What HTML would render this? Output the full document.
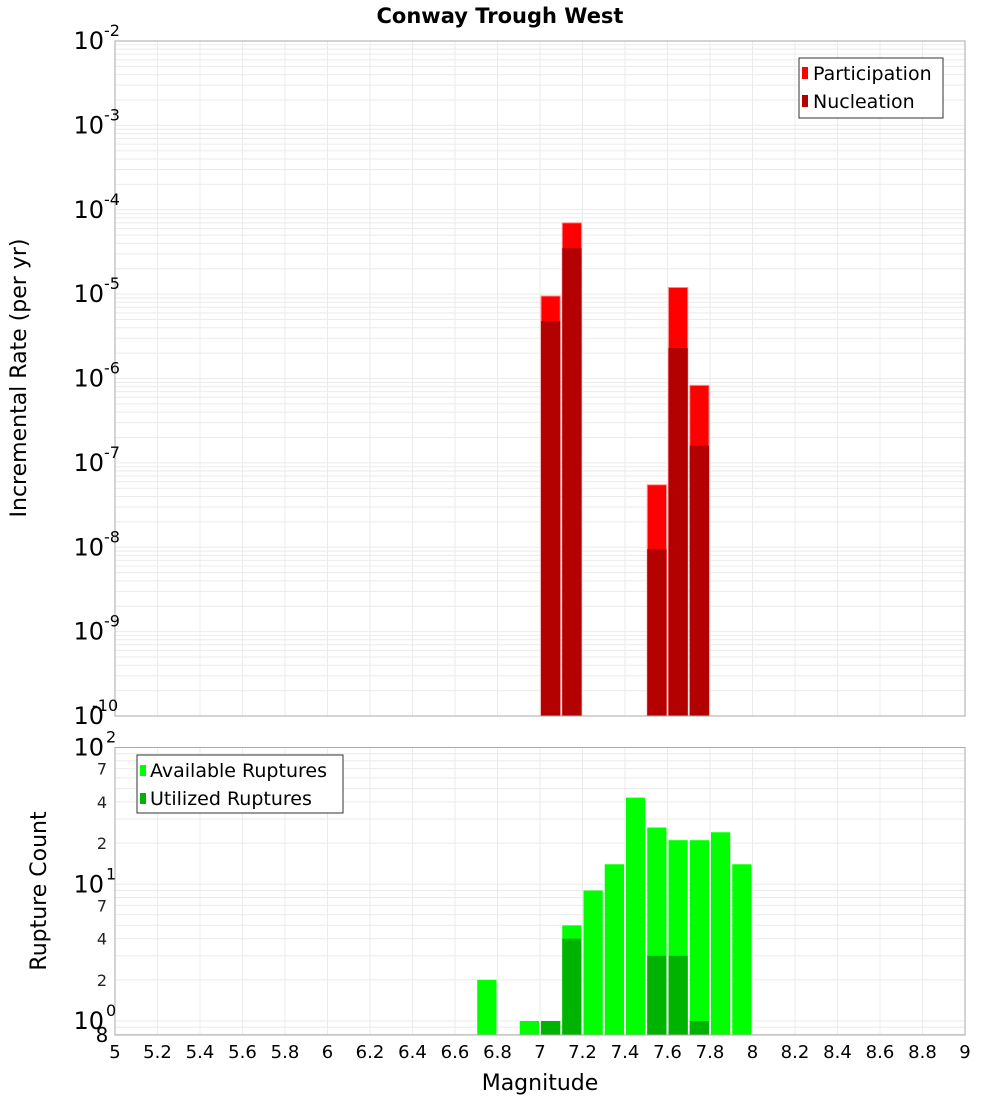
<!DOCTYPE html>
<html><head><meta charset="utf-8"><style>
body{margin:0;background:#fff;font-family:"Liberation Sans","DejaVu Sans",sans-serif}
</style></head><body>
<svg id="chart" width="1000" height="1100" xmlns="http://www.w3.org/2000/svg" font-family="DejaVu Sans, Liberation Sans, sans-serif" style="position:absolute;left:0;top:0">
<rect width="1000" height="1100" fill="#fff"/>
<text x="500" y="23" text-anchor="middle" font-size="21" font-weight="bold">Conway Trough West</text>
<g id="topPlot"></g><g id="botPlot"></g>
</svg>
<script>
const magBins=[7.0,7.1,7.5,7.6,7.7];
const participation=[9.5e-6,7e-5,5.5e-8,1.2e-5,8.3e-7];
const nucleation=[4.8e-6,3.5e-5,9.5e-9,2.3e-6,1.6e-7];
const countBins=[6.7,6.9,7.0,7.1,7.2,7.3,7.4,7.5,7.6,7.7,7.8,7.9];
const available=[2,1,1,5,9,14,43,26,21,21,24,14];
const utilBins=[7.0,7.1,7.5,7.6,7.7];
const utilized=[1,4,3,3,1];
const xTicks=[5,5.2,5.4,5.6,5.8,6,6.2,6.4,6.6,6.8,7,7.2,7.4,7.6,7.8,8,8.2,8.4,8.6,8.8,9];

const NS="http://www.w3.org/2000/svg";
function mk(p,t,a){const e=document.createElementNS(NS,t);for(const k in a)e.setAttribute(k,a[k]);p.appendChild(e);return e;}
const L=115,R=965;
const xs=m=>L+(m-5)/4*(R-L);
const tT=41,tB=716;
const yT=v=>tT+(-2-Math.log10(v))/8*(tB-tT);
const bT=747.5,bB=1035,bMin=Math.log10(0.79);
const yB=v=>bT+(2-Math.log10(v))/(2-bMin)*(bB-bT);
const topG=document.getElementById('topPlot'),botG=document.getElementById('botPlot');

function grid(g,T,B,yf,lo,hi,minMin){
  for(const t of xTicks){const l=mk(g,'line',{x1:xs(t),x2:xs(t),y1:T,y2:B,stroke:'#ebebeb'});
  
  }
  for(let d=lo;d<hi;d++)for(let k=1;k<10;k++){const v=k*Math.pow(10,d);if(v<minMin)continue;const y=yf(v);
    const l=mk(g,'line',{x1:L,x2:R,y1:y,y2:y,stroke:'#ebebeb'});
    
    }
}
grid(topG,tT,tB,yT,-10,-2,0);
grid(botG,bT,bB,yB,-1,2,0.8);

magBins.forEach((m,i)=>{
  const a=mk(topG,'rect',{x:xs(m)+1,width:xs(m+0.1)-xs(m)-2,y:yT(participation[i]),height:tB-yT(participation[i]),fill:'#ff0000',stroke:'#ff9090','stroke-width':1});
  
  
  const b=mk(topG,'rect',{x:xs(m)+1,width:xs(m+0.1)-xs(m)-2,y:yT(nucleation[i]),height:tB-yT(nucleation[i]),fill:'#b30000'});
  
  
});
countBins.forEach((m,i)=>{
  const a=mk(botG,'rect',{x:xs(m)+1,width:xs(m+0.1)-xs(m)-2,y:yB(available[i]),height:bB-yB(available[i]),fill:'#00ff00'});
  
  
});
utilBins.forEach((m,i)=>{
  const a=mk(botG,'rect',{x:xs(m)+1,width:xs(m+0.1)-xs(m)-2,y:yB(utilized[i]),height:bB-yB(utilized[i]),fill:'#00b300'});
  
  
});
const f1=mk(topG,'rect',{x:L,y:tT,width:R-L,height:tB-tT,fill:'none',stroke:'#aaa'});


const f2=mk(botG,'rect',{x:L,y:bT,width:R-L,height:bB-bT,fill:'none',stroke:'#aaa'});



for(let d=-2;d>=-10;d--){
  const t=mk(topG,'text',{x:104,y:yT(Math.pow(10,d))+8,'text-anchor':'end','font-size':24});
  
  
  t.textContent='10';
  const s=mk(topG,'text',{x:104,y:yT(Math.pow(10,d))-5,'font-size':16});
  
  
  s.textContent=String(d);
  if(d===-10)s.setAttribute('x',92);
}
[2,1,0].forEach(d=>{
  const y=yB(Math.pow(10,d));
  const t=mk(botG,'text',{x:104,y:y+8,'text-anchor':'end','font-size':24});
  
  
  t.textContent='10';
  const s=mk(botG,'text',{x:106,y:y-5,'font-size':16});
  
  
  s.textContent=String(d);
});
[70,40,20,7,4,2].forEach(v=>{
  const t=mk(botG,'text',{x:107,y:yB(v)+6,'text-anchor':'end','font-size':16,fill:'#222'});
  
  
  t.textContent=String(v).charAt(0);
});
const e8=mk(botG,'text',{x:102,y:1042,'text-anchor':'middle','font-size':20});


e8.textContent='8';
xTicks.forEach(t=>{
  const e=mk(botG,'text',{x:xs(t),y:1058,'text-anchor':'middle','font-size':18});
  
  
  e.textContent=String(t);
});
</script>
<svg style="position:absolute;left:0;top:0" width="1000" height="1100" xmlns="http://www.w3.org/2000/svg" font-family="DejaVu Sans, Liberation Sans, sans-serif">
<text x="540" y="1090" text-anchor="middle" font-size="22">Magnitude</text>
<text transform="translate(26,378) rotate(-90)" text-anchor="middle" font-size="22">Incremental Rate (per yr)</text>
<text transform="translate(46,891) rotate(-90)" text-anchor="middle" font-size="22">Rupture Count</text>
<g>
<rect x="799" y="58" width="144" height="60" fill="#fff" stroke="#333"/>
<rect x="802" y="67" width="6" height="12" fill="#ff0000"/>
<text x="813" y="80" font-size="19">Participation</text>
<rect x="802" y="95" width="6" height="12" fill="#b30000"/>
<text x="813" y="108" font-size="19">Nucleation</text>
</g>
<g>
<rect x="137" y="755" width="206" height="58" fill="#fff" stroke="#333"/>
<rect x="140" y="765" width="6" height="11" fill="#00ff00"/>
<text x="150" y="777" font-size="19">Available Ruptures</text>
<rect x="140" y="793" width="6" height="11" fill="#00b300"/>
<text x="150" y="805" font-size="19">Utilized Ruptures</text>
</g>
</svg>
</body></html>
